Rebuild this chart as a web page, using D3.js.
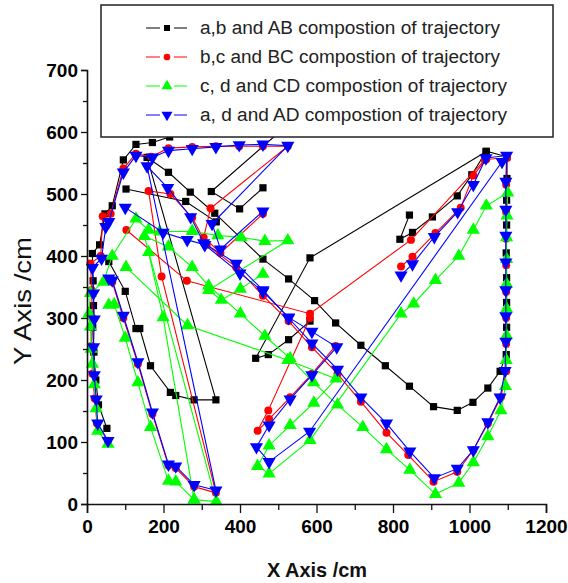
<!DOCTYPE html>
<html>
<head>
<meta charset="utf-8">
<script src="https://cdn.jsdelivr.net/npm/d3@7"></script>
<style>
  body { margin: 0; background: #fff; }
  svg { display: block; font-family: "Liberation Sans", Arial, sans-serif; }
</style>
</head>
<body>
<svg id="chart" width="568" height="583"></svg>
<script>
// trajectories, each series made of several sub paths [x, y] in cm
var blackPaths = [
  [[52,122],[30,160],[23,200],[18,245],[15,285],[17,320],[16,360],[14,404],[33,418],[47,468],[66,481],[95,555],[128,580],[171,583],[216,592],[300,608],[420,612],[503,600],[325,504],[399,476],[460,510]],
  [[57,391],[100,343],[128,283],[138,283],[166,223],[218,180],[232,175],[280,168],[337,168],[157,559],[213,535],[270,503],[334,469],[460,395],[527,363],[595,328],[650,292],[716,256],[780,223],[843,190],[906,157],[968,151],[1009,164],[1048,187],[1080,214],[1096,241],[1097,285],[1097,325],[1097,365],[1096,405],[1097,450],[1097,490],[1098,525],[1098,560],[1044,569],[1006,531],[968,497],[903,463],[851,438],[818,427],[843,466]],
  [[102,508],[258,488],[338,455]],
  [[583,295],[527,265],[474,241],[441,235],[583,397],[1043,568]]
];
var redPaths = [
  [[55,100],[26,130],[20,170],[14,210],[12,255],[14,300],[12,345],[9,388],[36,400],[41,464],[62,468],[95,541],[128,565],[168,560],[213,574],[275,576],[337,577],[398,577],[460,577],[525,577],[323,477],[305,430],[349,405],[460,468]],
  [[57,362],[66,358],[95,300],[133,226],[171,145],[213,62],[232,58],[280,28],[337,18],[195,367],[161,505],[218,500],[275,462],[313,418],[390,382],[460,336],[527,295],[588,253],[655,210],[716,165],[783,115],[840,79],[906,36],[968,52],[1010,87],[1048,130],[1082,172],[1096,214],[1096,258],[1096,300],[1096,342],[1096,385],[1096,428],[1096,470],[1096,515],[1098,558],[1044,556],[1010,530],[977,478],[911,437],[851,399],[821,383]],
  [[103,442],[261,360],[583,307],[847,426],[1040,555]],
  [[650,255],[588,210],[531,172],[476,137],[446,118],[474,151],[583,300]]
];
var greenPaths = [
  [[55,97],[28,118],[24,154],[19,193],[14,226],[11,250],[9,286],[5,307],[9,340],[43,358],[66,400],[128,460],[161,442],[190,439],[275,440],[342,433],[403,430],[465,424],[525,425],[318,345],[351,329],[401,347],[460,371]],
  [[57,321],[71,322],[100,268],[133,196],[166,124],[213,37],[232,36],[280,7],[338,4],[150,432],[213,415],[275,382],[318,352],[401,307],[465,271],[531,235],[592,196],[655,160],[721,124],[783,88],[844,55],[911,16],[972,34],[1010,67],[1048,109],[1082,151],[1094,190],[1096,232],[1097,272],[1097,315],[1097,355],[1097,395],[1097,430],[1098,465],[1100,502],[1044,481],[1010,442],[972,400],[911,361],[854,323],[821,307],[583,103],[476,49],[446,61],[476,94],[531,127],[593,163],[651,202],[525,232],[263,288],[102,382]],
  [[161,406],[199,301],[280,7]]
];
var bluePaths = [
  [[55,102],[28,130],[24,169],[19,208],[17,253],[19,298],[17,340],[14,381],[38,396],[49,447],[57,455],[95,535],[128,562],[171,559],[213,570],[275,573],[337,576],[398,579],[460,580],[525,578],[327,452],[349,411],[460,472]],
  [[57,364],[66,361],[95,304],[133,229],[171,148],[213,64],[232,61],[280,31],[337,22],[157,545],[211,510],[271,463],[305,421],[390,388],[460,345],[527,300],[588,259],[655,217],[716,172],[783,130],[844,85],[908,42],[968,57],[1010,87],[1048,132],[1080,172],[1093,215],[1095,262],[1095,303],[1095,345],[1095,390],[1095,433],[1095,475],[1095,520],[1097,562],[1043,558],[1010,515],[969,471],[908,431],[851,387],[821,369]],
  [[100,478],[199,438],[262,426],[308,418],[400,372],[460,343],[527,301],[588,278],[653,253],[588,208],[531,169],[476,127],[443,92],[476,68],[582,117],[1085,552]]
];

var seriesNames = [
  "a,b and AB compostion of trajectory",
  "b,c and BC compostion of trajectory",
  "c,  d and CD compostion of trajectory",
  "a, d and AD compostion of trajectory"
];
var seriesColors = ["#000000", "#ff0000", "#00ff00", "#0000ff"];
var xTicks = d3.range(0, 1201, 100);
var yTicks = d3.range(0, 701, 50);

var series = [
  {paths: blackPaths, color: seriesColors[0], sym: d3.symbolSquare, size: 52, rot: 0},
  {paths: redPaths, color: seriesColors[1], sym: d3.symbolCircle, size: 50, rot: 0},
  {paths: greenPaths, color: seriesColors[2], sym: d3.symbolTriangle, size: 75, rot: 0},
  {paths: bluePaths, color: seriesColors[3], sym: d3.symbolTriangle, size: 75, rot: 180}
];

var svg = d3.select("#chart");

var x = d3.scaleLinear().domain([0, 1200]).range([87, 546]);
var y = d3.scaleLinear().domain([0, 700]).range([504, 70]);

var line = d3.line()
    .x(function(d) { return x(d[0]); })
    .y(function(d) { return y(d[1]); });

// data
series.forEach(function(s) {
    var g = svg.append("g");
    g.selectAll("path.trace")
        .data(s.paths)
        .enter()
        .append("path")
        .attr("class", "trace")
        .attr("d", line)
        .attr("fill", "none")
        .attr("stroke", s.color)
        .attr("stroke-width", 1.1);
    var pts = [].concat.apply([], s.paths);
    g.selectAll("path.mark")
        .data(pts)
        .enter()
        .append("path")
        .attr("class", "mark")
        .attr("d", d3.symbol().type(s.sym).size(s.size))
        .attr("transform", function(d) {
            return "translate(" + x(d[0]) + "," + y(d[1]) + ") rotate(" + s.rot + ")";
        })
        .attr("fill", s.color);
});

// axes
var xAxis = svg.append("g")
    .attr("transform", "translate(0,504)")
    .call(d3.axisBottom(x).tickValues(xTicks).tickSize(9).tickPadding(7)
        .tickFormat(function(d) { return d % 200 === 0 ? d : ""; }));
xAxis.selectAll(".tick").filter(function(d) { return d % 200 !== 0; })
    .select("line").attr("y2", 6);

var yAxis = svg.append("g")
    .attr("transform", "translate(87,0)")
    .call(d3.axisLeft(y).tickValues(yTicks).tickSize(6).tickPadding(3)
        .tickFormat(function(d) { return d % 100 === 0 ? d : ""; }));
yAxis.selectAll(".tick").filter(function(d) { return d % 100 !== 0; })
    .select("line").attr("x2", -4);

[xAxis, yAxis].forEach(function(a) {
    a.select(".domain").attr("stroke-width", 1.6).attr("stroke", "#111");
    a.selectAll(".tick line").attr("stroke-width", 1.3).attr("stroke", "#111");
    a.selectAll("text")
        .attr("font-size", 19)
        .attr("font-weight", "bold")
        .attr("font-family", "'Liberation Sans', Arial, sans-serif")
        .attr("fill", "#000");
});

svg.append("text")
    .attr("x", 317).attr("y", 577)
    .attr("text-anchor", "middle")
    .attr("font-size", 21).attr("font-weight", "bold")
    .attr("textLength", 100).attr("lengthAdjust", "spacingAndGlyphs")
    .attr("fill", "#111")
    .text("X Axis /cm");

svg.append("text")
    .attr("transform", "translate(31,301) rotate(-90)")
    .attr("text-anchor", "middle")
    .attr("font-size", 24)
    .attr("textLength", 128).attr("lengthAdjust", "spacingAndGlyphs")
    .attr("fill", "#111")
    .text("Y Axis  /cm");

// legend
var leg = svg.append("g");
leg.append("rect")
    .attr("x", 101).attr("y", 5)
    .attr("width", 452).attr("height", 132)
    .attr("fill", "#fff").attr("stroke", "#222").attr("stroke-width", 1.5);

var rows = leg.selectAll("g.row")
    .data(series)
    .enter()
    .append("g")
    .attr("class", "row")
    .attr("transform", function(d, i) { return "translate(0," + (28 + i * 29) + ")"; });

rows.append("line").attr("x1", 146).attr("x2", 160).attr("y1", 0).attr("y2", 0)
    .attr("stroke", function(d) { return d.color; });
rows.append("line").attr("x1", 174).attr("x2", 187).attr("y1", 0).attr("y2", 0)
    .attr("stroke", function(d) { return d.color; });
rows.append("path")
    .attr("d", function(d) { return d3.symbol().type(d.sym).size(d.size * 0.7)(); })
    .attr("transform", function(d) { return "translate(167,0) rotate(" + d.rot + ")"; })
    .attr("fill", function(d) { return d.color; });
rows.append("text")
    .attr("x", 200).attr("y", 0).attr("dy", "0.35em")
    .attr("font-size", 18)
    .attr("fill", "#222")
    .attr("textLength", function(d, i) { return i < 2 ? 300 : 307; })
    .attr("lengthAdjust", "spacingAndGlyphs")
    .text(function(d, i) { return seriesNames[i]; });
</script>
</body>
</html>
